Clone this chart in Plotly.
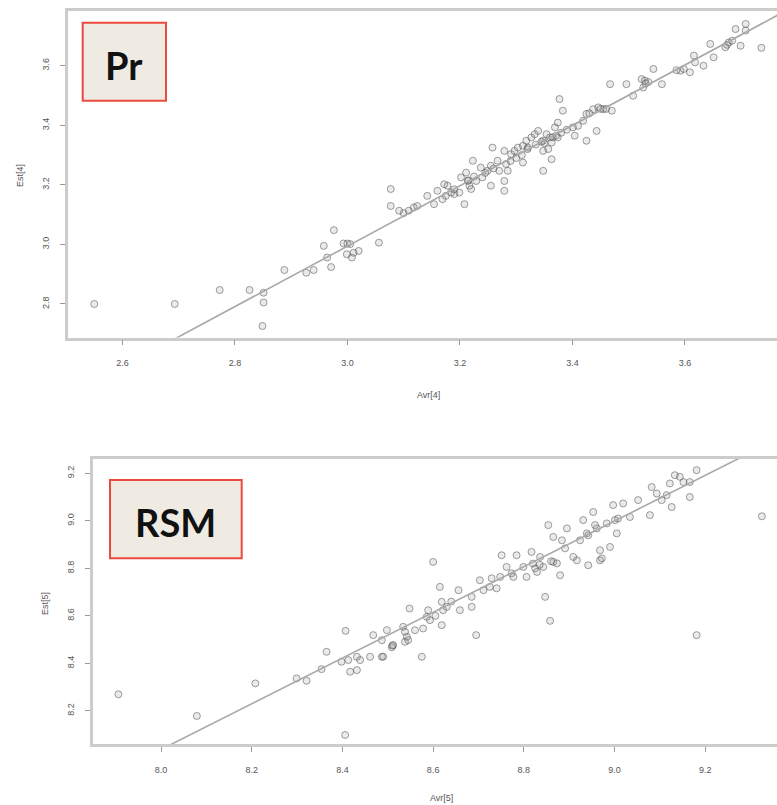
import plotly.graph_objects as go

# ---------------- data ----------------
pr_pred = [2.550, 2.693, 2.773, 2.826, 2.851, 2.851, 2.849, 2.888, 2.927, 2.940,
           2.971, 2.964, 2.958, 2.976, 2.993, 3.000, 2.999, 3.008, 3.020, 3.005,
           3.011, 3.056, 3.077, 3.077, 3.092, 3.109, 3.118, 3.124, 3.142, 3.154,
           3.160, 3.169, 3.175, 3.178, 3.184, 3.172, 3.190, 3.199, 3.208, 3.202,
           3.211, 3.214, 3.217, 3.220, 3.223, 3.229, 3.237, 3.240, 3.249, 3.255,
           3.258, 3.255, 3.267, 3.270, 3.279, 3.282, 3.285, 3.279, 3.279, 3.291,
           3.297, 3.303, 3.312, 3.318, 3.321, 3.312, 3.327, 3.333, 3.339, 3.348,
           3.348, 3.348, 3.354, 3.360, 3.363, 3.369, 3.374, 3.363, 3.357, 3.377,
           3.383, 3.371, 3.374, 3.401, 3.404, 3.410, 3.419, 3.425, 3.437, 3.446,
           3.455, 3.470, 3.425, 3.443, 3.467, 3.496, 3.508, 3.523, 3.529, 3.526,
           3.544, 3.559, 3.592, 3.598, 3.609, 3.616, 3.618, 3.633, 3.645, 3.651,
           3.672, 3.678, 3.684, 3.699, 3.690, 3.708, 3.708, 3.736,
           3.215, 3.225, 3.260, 3.300, 3.310, 3.335, 3.345, 3.365, 3.380, 3.390,
           3.430, 3.450, 3.460, 3.535, 3.530, 3.585, 3.675, 3.100, 3.190, 3.245,
           3.290, 3.320, 3.350]
pr_obs = [2.800, 2.800, 2.847, 2.847, 2.838, 2.805, 2.726, 2.914, 2.905, 2.914,
          2.924, 2.956, 2.995, 3.048, 3.003, 3.003, 2.967, 2.956, 2.978, 3.001,
          2.972, 3.006, 3.186, 3.129, 3.113, 3.113, 3.124, 3.129, 3.163, 3.135,
          3.180, 3.152, 3.163, 3.197, 3.174, 3.202, 3.169, 3.174, 3.135, 3.225,
          3.241, 3.213, 3.197, 3.186, 3.281, 3.213, 3.258, 3.225, 3.247, 3.264,
          3.325, 3.197, 3.281, 3.247, 3.314, 3.270, 3.247, 3.213, 3.180, 3.303,
          3.314, 3.325, 3.331, 3.348, 3.325, 3.275, 3.359, 3.370, 3.381, 3.348,
          3.314, 3.247, 3.370, 3.359, 3.342, 3.393, 3.409, 3.286, 3.320, 3.488,
          3.449, 3.365, 3.359, 3.393, 3.365, 3.398, 3.415, 3.438, 3.454, 3.460,
          3.454, 3.449, 3.348, 3.381, 3.538, 3.538, 3.499, 3.555, 3.550, 3.527,
          3.589, 3.538, 3.583, 3.589, 3.578, 3.634, 3.611, 3.600, 3.673, 3.628,
          3.662, 3.678, 3.684, 3.667, 3.723, 3.740, 3.718, 3.660,
          3.215, 3.228, 3.255, 3.290, 3.300, 3.335, 3.345, 3.360, 3.375, 3.385,
          3.440, 3.455, 3.455, 3.545, 3.540, 3.585, 3.670, 3.105, 3.185, 3.240,
          3.280, 3.320, 3.340]

rsm_pred = [7.906, 8.079, 8.208, 8.299, 8.321, 8.354, 8.365, 8.406, 8.407, 8.398,
            8.413, 8.417, 8.432, 8.432, 8.439, 8.461, 8.468, 8.487, 8.487, 8.498,
            8.509, 8.512, 8.534, 8.538, 8.542, 8.538, 8.548, 8.575, 8.578, 8.586,
            8.589, 8.600, 8.615, 8.619, 8.619, 8.622, 8.490, 8.545, 8.593, 8.630,
            8.656, 8.659, 8.685, 8.695, 8.685, 8.703, 8.711, 8.725, 8.729, 8.740,
            8.748, 8.751, 8.762, 8.773, 8.784, 8.777, 8.799, 8.806, 8.817, 8.825,
            8.829, 8.836, 8.843, 8.847, 8.858, 8.854, 8.865, 8.865, 8.873, 8.880,
            8.884, 8.891, 8.895, 8.909, 8.917, 8.924, 8.931, 8.939, 8.942, 8.953,
            8.961, 8.968, 8.968, 8.983, 8.990, 8.997, 9.001, 8.972, 8.957, 8.942,
            9.019, 9.008, 9.005, 9.034, 9.052, 9.078, 9.082, 9.093, 9.104, 9.115,
            9.122, 9.126, 9.133, 9.144, 9.152, 9.166, 9.166, 9.181, 9.325, 9.181,
            8.510, 8.560, 8.605, 8.640, 8.820, 8.860, 8.835]
rsm_obs = [8.270, 8.179, 8.316, 8.337, 8.327, 8.376, 8.449, 8.099, 8.537, 8.407,
           8.414, 8.365, 8.372, 8.428, 8.414, 8.428, 8.519, 8.428, 8.498, 8.540,
           8.468, 8.477, 8.554, 8.533, 8.512, 8.491, 8.631, 8.428, 8.547, 8.596,
           8.624, 8.827, 8.722, 8.659, 8.561, 8.624, 8.428, 8.498, 8.582, 8.638,
           8.708, 8.624, 8.638, 8.519, 8.680, 8.750, 8.708, 8.722, 8.758, 8.716,
           8.764, 8.855, 8.806, 8.779, 8.855, 8.764, 8.806, 8.764, 8.869, 8.800,
           8.785, 8.848, 8.806, 8.680, 8.579, 8.982, 8.932, 8.827, 8.821, 8.771,
           8.918, 8.884, 8.968, 8.848, 8.834, 8.918, 9.003, 8.947, 8.813, 9.037,
           8.968, 8.876, 8.834, 8.989, 8.890, 9.066, 9.003, 8.842, 8.982, 8.939,
           9.073, 9.010, 8.947, 9.016, 9.087, 9.024, 9.142, 9.115, 9.087, 9.108,
           9.157, 9.058, 9.192, 9.185, 9.163, 9.163, 9.100, 9.213, 9.019, 8.519,
           8.475, 8.540, 8.600, 8.660, 8.820, 8.830, 8.815]

pr_line = {"intercept": -0.048, "slope": 1.014}
rsm_line = {"intercept": 0.35, "slope": 0.961}

pr_xticks = [2.6, 2.8, 3.0, 3.2, 3.4, 3.6]
pr_yticks = [2.8, 3.0, 3.2, 3.4, 3.6]
rsm_xticks = [8.0, 8.2, 8.4, 8.6, 8.8, 9.0, 9.2]
rsm_yticks = [8.2, 8.4, 8.6, 8.8, 9.0, 9.2]

panel_labels = ["Pr", "RSM"]
x_titles = ["Avr[4]", "Avr[5]"]
y_titles = ["Est[4]", "Est[5]"]

# ---------------- layout helpers ----------------
W, H = 777, 805
def fx(p):
    return p / W
def fy(p):
    return 1 - p / H

marker = dict(symbol="circle", size=7, color="rgba(140,140,140,0.18)",
              line=dict(color="rgba(70,70,70,0.5)", width=1))
line_style = dict(color="#a8a8a8", width=1.6)
frame_col = "#cccccc"
tick_font = dict(family="Liberation Sans, Arial, sans-serif", size=9, color="#555")

fig = go.Figure()
fig.add_trace(go.Scatter(x=pr_pred, y=pr_obs, mode="markers", marker=marker,
                         xaxis="x", yaxis="y", showlegend=False))
lx = [2.4, 3.9]
fig.add_trace(go.Scatter(x=lx, y=[pr_line["intercept"] + pr_line["slope"] * v for v in lx],
                         mode="lines", line=line_style, xaxis="x", yaxis="y", showlegend=False))
fig.add_trace(go.Scatter(x=rsm_pred, y=rsm_obs, mode="markers", marker=marker,
                         xaxis="x2", yaxis="y2", showlegend=False))
lx2 = [7.7, 9.5]
fig.add_trace(go.Scatter(x=lx2, y=[rsm_line["intercept"] + rsm_line["slope"] * v for v in lx2],
                         mode="lines", line=line_style, xaxis="x2", yaxis="y2", showlegend=False))

def xax(domain, rng, ticks, anchor):
    return dict(domain=domain, range=rng, tickvals=ticks, tickformat=".1f",
                showgrid=False, zeroline=False, showline=True, linecolor=frame_col,
                linewidth=2.5, mirror=True, ticks="outside", ticklen=5,
                tickcolor="#999", tickwidth=1, tickfont=tick_font, anchor=anchor,
                ticklabelstandoff=10)

def yax(domain, rng, ticks, anchor):
    return dict(domain=domain, range=rng, tickvals=ticks, tickformat=".1f",
                showgrid=False, zeroline=False, showline=True, linecolor=frame_col,
                linewidth=2.5, mirror=False, ticks="outside", ticklen=5,
                tickcolor="#999", tickwidth=1, tickfont=tick_font, anchor=anchor,
                tickangle=-90, ticklabelstandoff=8)

# top panel frame: x 68..777, y 11..337.5 px
# bottom panel frame: x 93..777, y 459..744 px
fig.update_layout(
    width=W, height=H, margin=dict(l=0, r=0, t=0, b=0),
    paper_bgcolor="white", plot_bgcolor="white",
    xaxis=xax([fx(68), 1.0], [2.5033, 3.7637], pr_xticks, "y"),
    yaxis=yax([fy(337.5), fy(11)], [2.6875, 3.7836], pr_yticks, "x"),
    xaxis2=xax([fx(93), 1.0], [7.850, 9.3583], rsm_xticks, "y2"),
    yaxis2=yax([fy(744), fy(459)], [8.061, 9.260], rsm_yticks, "x2"),
)

shapes = []
annotations = []
title_font = dict(family="Liberation Sans, Arial, sans-serif", size=9, color="#555")
# axis titles
annotations.append(dict(text=x_titles[0], x=fx(428), y=fy(395), xref="paper", yref="paper",
                        xanchor="center", yanchor="middle",
                        showarrow=False, font=title_font))
annotations.append(dict(text=y_titles[0], x=fx(20), y=fy(176), xref="paper", yref="paper",
                        xanchor="center", yanchor="middle",
                        showarrow=False, font=title_font, textangle=-90))
annotations.append(dict(text=x_titles[1], x=fx(441), y=fy(798), xref="paper", yref="paper",
                        xanchor="center", yanchor="middle",
                        showarrow=False, font=title_font))
annotations.append(dict(text=y_titles[1], x=fx(45), y=fy(604), xref="paper", yref="paper",
                        xanchor="center", yanchor="middle",
                        showarrow=False, font=title_font, textangle=-90))

# panel label boxes
boxes = [(82.7, 22.7, 166, 100.7), (110, 480, 241.7, 558.3)]
for (x0, y0, x1, y1), lab in zip(boxes, panel_labels):
    shapes.append(dict(type="rect", xref="paper", yref="paper",
                       x0=fx(x0), x1=fx(x1), y0=fy(y1), y1=fy(y0),
                       fillcolor="#efebe3", line=dict(color="#ec4a3f", width=2)))
    annotations.append(dict(text="<b>%s</b>" % lab, x=fx((x0 + x1) / 2), y=fy((y0 + y1) / 2 + 3),
                            xref="paper", yref="paper", showarrow=False,
                            xanchor="center", yanchor="middle",
                            font=dict(family="Lato, Open Sans, sans-serif", size=38, color="#111")))

fig.update_layout(shapes=shapes, annotations=annotations)
fig.write_html("out.html", config={"displayModeBar": False},
               post_script="document.body.style.margin='0';document.body.style.overflow='hidden';")
